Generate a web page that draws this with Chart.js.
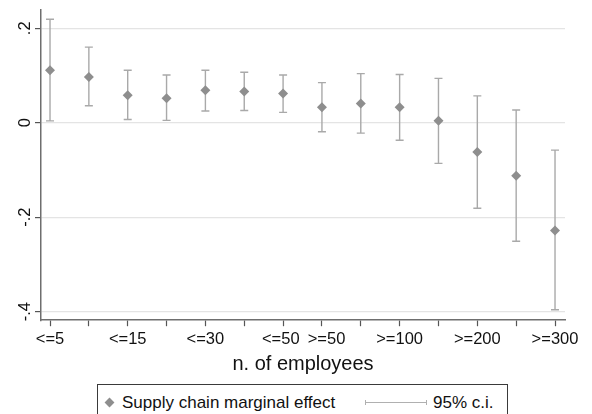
<!DOCTYPE html>
<html>
<head>
<meta charset="utf-8">
<script src="https://cdn.jsdelivr.net/npm/chart.js@4.4.1/dist/chart.umd.min.js"></script>
<style>
  body { margin: 0; background: #fff; }
  #wrap { position: relative; width: 592px; height: 414px; overflow: hidden; font-family: "Liberation Sans", Arial, sans-serif; }
  #legend {
    position: absolute; left: 97px; top: 384px; width: 411px; height: 40px;
    box-sizing: border-box; border: 1px solid #3a3a3a; background: #fff;
    font-size: 17px; color: #111;
  }
  #legend .dia {
    position: absolute; left: 8px; top: 14px; width: 7px; height: 7px;
    background: #8e8e8e; transform: rotate(45deg);
  }
  #legend .lab1 { position: absolute; left: 24px; top: 8px; white-space: nowrap; }
  #legend .ci {
    position: absolute; left: 267px; top: 17px; width: 62px; height: 0;
    border-top: 1.3px solid #b0b0b0;
  }
  #legend .ci:before, #legend .ci:after {
    content: ""; position: absolute; top: -3px; width: 0; height: 5px;
    border-left: 1.3px solid #b0b0b0;
  }
  #legend .ci:before { left: 0; }
  #legend .ci:after { right: 0; }
  #legend .lab2 { position: absolute; left: 335px; top: 8px; white-space: nowrap; }
</style>
</head>
<body>
<div id="wrap">
  <canvas id="chart" width="592" height="414"></canvas>
  <div id="legend">
    <span class="dia"></span><span class="lab1">Supply chain marginal effect</span>
    <span class="ci"></span><span class="lab2">95% c.i.</span>
  </div>
</div>
<script>
// size classes (n. of employees), one point each
const tickLabels = ['<=5', '', '<=15', '', '<=30', '', '<=50', '>=50', '', '>=100', '', '>=200', '', '>=300'];
const effect = [0.111, 0.097, 0.058, 0.052, 0.069, 0.066, 0.062, 0.033, 0.041, 0.033, 0.004, -0.062, -0.112, -0.228];
const ciLow = [0.004, 0.036, 0.007, 0.005, 0.025, 0.026, 0.022, -0.019, -0.022, -0.037, -0.086, -0.181, -0.251, -0.396];
const ciHigh = [0.219, 0.160, 0.111, 0.101, 0.111, 0.107, 0.101, 0.085, 0.104, 0.102, 0.094, 0.057, 0.027, -0.058];
const yTickValues = [-0.4, -0.2, 0, 0.2];
const yTickLabels = ['-.4', '-.2', '0', '.2'];

const FONT = '"Liberation Sans", Arial, sans-serif';
const AXIS = '#6e6e6e';

// draws the confidence interval whiskers under the markers
const errorBars = {
    id: 'errorBars',
    beforeDatasetsDraw: function (chart) {
        const ctx = chart.ctx;
        const x = chart.scales.x;
        const y = chart.scales.y;
        ctx.save();
        ctx.strokeStyle = '#a9a9a9';
        ctx.lineWidth = 1.4;
        for (let i = 0; i < effect.length; i++) {
            const px = x.getPixelForValue(i);
            const lo = y.getPixelForValue(ciLow[i]);
            const hi = y.getPixelForValue(ciHigh[i]);
            ctx.beginPath();
            ctx.moveTo(px, lo);
            ctx.lineTo(px, hi);
            ctx.moveTo(px - 4, lo);
            ctx.lineTo(px + 4, lo);
            ctx.moveTo(px - 4, hi);
            ctx.lineTo(px + 4, hi);
            ctx.stroke();
        }
        ctx.restore();
    }
};

// neighbouring labels get a little room, like stata does
function xLabel(i) {
    let s = tickLabels[i];
    if (!s) return '';
    if (tickLabels[i - 1]) s = '  ' + s;
    if (tickLabels[i + 1]) s = s + ' ';
    return s;
}

new Chart(document.getElementById('chart'), {
    type: 'scatter',
    data: {
        datasets: [{
            label: 'Supply chain marginal effect',
            data: effect.map(function (v, i) { return { x: i, y: v }; }),
            pointStyle: 'rectRot',
            pointRadius: 5,
            pointBackgroundColor: '#8e8e8e',
            pointBorderColor: '#8e8e8e',
            pointBorderWidth: 0
        }]
    },
    options: {
        responsive: false,
        animation: false,
        layout: { padding: { left: 0, right: 27, top: 10, bottom: 37 } },
        scales: {
            x: {
                type: 'linear',
                min: -0.232,
                max: 13.257,
                afterBuildTicks: function (scale) {
                    scale.ticks = tickLabels.map(function (t, i) { return { value: i }; });
                },
                afterFit: function (scale) {
                    scale.paddingLeft = 0;
                    scale.paddingRight = 0;
                },
                border: { display: true, color: AXIS, width: 1.5 },
                grid: { drawOnChartArea: false, drawTicks: true, tickLength: 6, tickColor: '#555', tickWidth: 1.2 },
                ticks: {
                    padding: 3,
                    autoSkip: false,
                    maxRotation: 0,
                    color: '#111',
                    font: { family: FONT, size: 16.5 },
                    callback: function (v) { return xLabel(v); }
                },
                title: {
                    display: true,
                    text: 'n. of employees',
                    color: '#111',
                    padding: { top: 0, bottom: 1 },
                    font: { family: FONT, size: 20 }
                }
            },
            y: {
                min: -0.418,
                max: 0.2387,
                afterBuildTicks: function (scale) {
                    scale.ticks = yTickValues.map(function (v) { return { value: v }; });
                },
                afterFit: function (scale) {
                    scale.width = 41;
                    scale.paddingTop = 0;
                    scale.paddingBottom = 0;
                },
                border: { display: true, color: AXIS, width: 1.5 },
                grid: { color: '#e4e4e4', lineWidth: 1.2, tickLength: 6, tickColor: '#555', tickWidth: 1.2 },
                ticks: {
                    minRotation: 90,
                    maxRotation: 90,
                    crossAlign: 'center',
                    padding: 0,
                    color: '#111',
                    font: { family: FONT, size: 16.5 },
                    callback: function (v) {
                        const k = yTickValues.indexOf(v);
                        return k >= 0 ? yTickLabels[k] : '';
                    }
                }
            }
        },
        plugins: {
            legend: { display: false },
            tooltip: { enabled: false }
        }
    },
    plugins: [errorBars]
});
</script>
</body>
</html>
